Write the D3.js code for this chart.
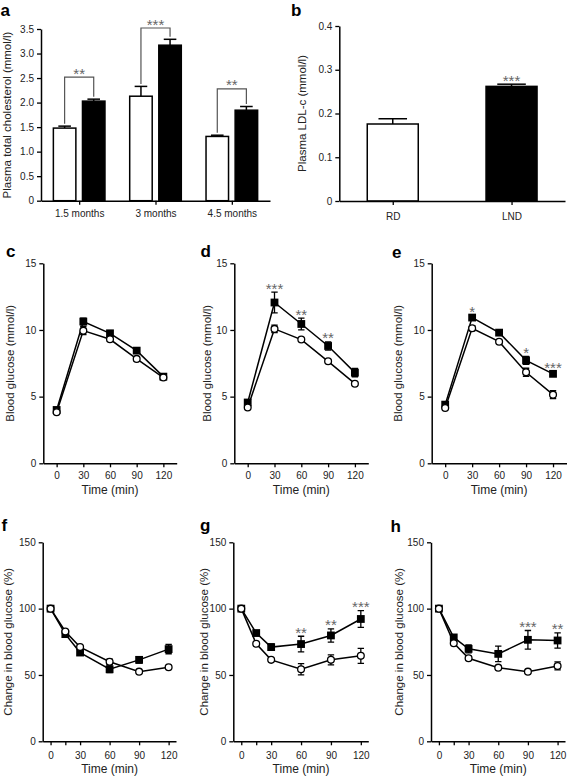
<!DOCTYPE html>
<html>
<head>
<meta charset="utf-8">
<script src="https://cdn.jsdelivr.net/npm/d3@7"></script>
<style>
  html, body { margin: 0; padding: 0; background: #fff; }
  svg { display: block; }
</style>
</head>
<body>
<svg id="chart" width="567" height="776"></svg>
<script>
// ---------------- DATA ----------------
// Panel a: plasma total cholesterol (mmol/l)
const months = ["1.5 months", "3 months", "4.5 months"];
const cholRD = [1.48, 2.13, 1.31];
const cholRDErr = [0.04, 0.20, 0.025];
const cholLND = [2.03, 3.17, 1.845];
const cholLNDErr = [0.04, 0.12, 0.075];
const cholStars = ["**", "***", "**"];
const cholBracket = [2.52, 3.52, 2.28];
const cholTicks = [0, 0.5, 1.0, 1.5, 2.0, 2.5, 3.0, 3.5];

// Panel b: plasma LDL-c (mmol/l)
const ldlGroups = ["RD", "LND"];
const ldlValues = [0.176, 0.262];
const ldlErr = [0.012, 0.005];
const ldlStars = ["", "***"];
const ldlTicks = [0, 0.1, 0.2, 0.3, 0.4];

// Panels c-e: blood glucose (mmol/l), OGTT
const ogttTime = [0, 30, 60, 90, 120];
const glucoseTicks = [0, 5, 10, 15];
const cRD = [3.83, 9.95, 9.3, 7.83, 6.43];
const cRDErr = [0.1, 0.3, 0.15, 0.15, 0.15];
const cLND = [4.0, 10.63, 9.75, 8.45, 6.5];
const cLNDErr = [0.1, 0.25, 0.2, 0.2, 0.15];
const cStars = [];

const dRD = [4.19, 10.08, 9.28, 7.65, 5.97];
const dRDErr = [0.1, 0.28, 0.1, 0.1, 0.1];
const dLND = [4.56, 12.06, 10.45, 8.8, 6.8];
const dLNDErr = [0.15, 0.78, 0.44, 0.31, 0.31];
const dStars = [{ t: 30, s: "***" }, { t: 60, s: "**" }, { t: 90, s: "**" }];

const eRD = [4.15, 10.13, 9.12, 6.83, 5.15];
const eRDErr = [0.1, 0.2, 0.1, 0.3, 0.3];
const eLND = [4.4, 10.93, 9.8, 7.72, 6.71];
const eLNDErr = [0.1, 0.15, 0.15, 0.3, 0.15];
const eStars = [{ t: 30, s: "*" }, { t: 90, s: "*" }, { t: 120, s: "***" }];

// Panels f-h: change in blood glucose (%), ITT
const ittTime = [0, 15, 30, 60, 90, 120];
const changeTicks = [0, 50, 100, 150];
const fRD = [100, 82.8, 71, 60, 52.5, 55.8];
const fRDErr = [0, 1, 1, 2, 1, 1];
const fLND = [100, 80.8, 66.9, 54.3, 61.4, 69.5];
const fLNDErr = [0, 1.5, 2, 2.5, 2.5, 3.5];
const fStars = [];

const gRD = [100, 73.5, 61.4, 54.3, 61.4, 64.4];
const gRDErr = [0, 1, 1, 4.2, 3.8, 5.7];
const gLND = [100, 81.6, 71, 73.3, 79.8, 92.2];
const gLNDErr = [0, 1.5, 2.5, 5.9, 5, 6.3];
const gStars = [{ t: 60, s: "**" }, { t: 90, s: "**" }, { t: 120, s: "***" }];

const hRD = [100, 74, 62.6, 55.5, 52.5, 56.8];
const hRDErr = [0, 1, 1.5, 1, 1, 3];
const hLND = [100, 78.3, 69.7, 65.9, 76.5, 76];
const hLNDErr = [0, 2, 3, 5.9, 7, 5.7];
const hStars = [{ t: 90, s: "***" }, { t: 120, s: "**" }];

// ---------------- DRAWING ----------------
const FONT = '"Liberation Sans", Arial, Helvetica, sans-serif';
const svg = d3.select("#chart").style("font-family", FONT);
const TICK_FS = 10, TITLE_FS = 11.5, XTITLE_FS = 12, STAR_FS = 15, LETTER_FS = 17;
const STAR_COLOR = "#666";

function styleAxis(g) {
  g.select(".domain").attr("stroke", "#000").attr("stroke-width", 1.5);
  g.selectAll(".tick line").attr("stroke", "#000").attr("stroke-width", 1.3);
  g.selectAll(".tick text").attr("fill", "#222").style("font-size", TICK_FS + "px").style("font-family", FONT);
}

function letter(txt, x, y) {
  svg.append("text").attr("x", x).attr("y", y).text(txt)
    .style("font-size", LETTER_FS + "px").style("font-weight", "bold").attr("fill", "#000");
}

function yTitle(txt, x, yc) {
  svg.append("text").attr("transform", `translate(${x},${yc}) rotate(-90)`)
    .attr("text-anchor", "middle").attr("dominant-baseline", "central")
    .style("font-size", TITLE_FS + "px").attr("fill", "#222").text(txt);
}

function star(txt, x, yTop) {
  // yTop: pixel position of the visual centre of the asterisks
  svg.append("text").attr("x", x).attr("y", yTop + 0.57 * STAR_FS)
    .attr("text-anchor", "middle").style("font-size", STAR_FS + "px")
    .attr("fill", STAR_COLOR).text(txt);
}

const fmt1 = d => d === 0 ? "0" : d3.format(".1f")(d);

// ---- Panel a ----
(function () {
  const x = d3.scalePoint(months, [41, 270]).padding(0.5);
  const y = d3.scaleLinear([0, 3.5], [200.7, 29]);
  const bw = 22.5, gap = 3.3;
  const g = svg.append("g");
  const groups = months.map((m, i) => ({ m, i }));
  const series = [
    { vals: cholRD, err: cholRDErr, fill: "#fff", off: -gap - bw },
    { vals: cholLND, err: cholLNDErr, fill: "#000", off: gap }
  ];
  series.forEach(s => {
    // error bars (upward only)
    groups.forEach(({ m, i }) => {
      const cx = x(m) + s.off + bw / 2;
      g.append("line").attr("x1", cx).attr("x2", cx)
        .attr("y1", y(s.vals[i])).attr("y2", y(s.vals[i] + s.err[i]))
        .attr("stroke", "#000").attr("stroke-width", 1.5);
      g.append("line").attr("x1", cx - bw * 0.28).attr("x2", cx + bw * 0.28)
        .attr("y1", y(s.vals[i] + s.err[i])).attr("y2", y(s.vals[i] + s.err[i]))
        .attr("stroke", "#000").attr("stroke-width", 1.5);
    });
    g.selectAll(null).data(groups).join("rect")
      .attr("x", d => x(d.m) + s.off)
      .attr("y", d => y(s.vals[d.i]))
      .attr("width", bw)
      .attr("height", d => y(0) - y(s.vals[d.i]))
      .attr("fill", s.fill).attr("stroke", "#000").attr("stroke-width", 1.5);
  });
  // brackets
  groups.forEach(({ m, i }) => {
    const xl = x(m) - gap - bw / 2, xr = x(m) + gap + bw / 2;
    const yb = y(cholBracket[i]);
    const yl = y(cholRD[i] + cholRDErr[i]) - 2.5, yr = y(cholLND[i] + cholLNDErr[i]) - 2.5;
    g.append("path").attr("d", `M${xl},${yl}V${yb}H${xr}V${yr}`)
      .attr("fill", "none").attr("stroke", "#555").attr("stroke-width", 1.2);
    star(cholStars[i], (xl + xr) / 2, yb - 7);
  });
  const ax = g.append("g").attr("transform", `translate(0,${y(0)})`)
    .call(d3.axisBottom(x).tickSize(4).tickPadding(5).tickSizeOuter(0));
  styleAxis(ax);
  const ay = g.append("g").attr("transform", `translate(41,0)`)
    .call(d3.axisLeft(y).tickValues(cholTicks).tickFormat(fmt1).tickSize(4).tickPadding(3).tickSizeOuter(0));
  styleAxis(ay);
  yTitle("Plasma total cholesterol (mmol/l)", 7, 115);
  letter("a", 0.5, 16);
})();

// ---- Panel b ----
(function () {
  const x = d3.scalePoint(ldlGroups, [339.3, 565]).padding(0.45);
  const y = d3.scaleLinear([0, 0.4], [201, 26]);
  const bw = 51;
  const g = svg.append("g");
  const fills = ["#fff", "#000"];
  ldlGroups.forEach((k, i) => {
    const cx = x(k);
    g.append("line").attr("x1", cx).attr("x2", cx)
      .attr("y1", y(ldlValues[i])).attr("y2", y(ldlValues[i] + ldlErr[i]))
      .attr("stroke", "#000").attr("stroke-width", 1.5);
    g.append("line").attr("x1", cx - bw * 0.28).attr("x2", cx + bw * 0.28)
      .attr("y1", y(ldlValues[i] + ldlErr[i])).attr("y2", y(ldlValues[i] + ldlErr[i]))
      .attr("stroke", "#000").attr("stroke-width", 1.5);
  });
  g.selectAll(null).data(ldlGroups).join("rect")
    .attr("x", d => x(d) - bw / 2)
    .attr("y", (d, i) => y(ldlValues[i]))
    .attr("width", bw)
    .attr("height", (d, i) => y(0) - y(ldlValues[i]))
    .attr("fill", (d, i) => fills[i]).attr("stroke", "#000").attr("stroke-width", 1.5);
  ldlGroups.forEach((k, i) => {
    if (ldlStars[i]) star(ldlStars[i], x(k), y(ldlValues[i] + ldlErr[i]) - 7);
  });
  const ax = g.append("g").attr("transform", `translate(0,${y(0)})`)
    .call(d3.axisBottom(x).tickSize(4).tickPadding(8).tickSizeOuter(0));
  styleAxis(ax);
  const ay = g.append("g").attr("transform", `translate(339.3,0)`)
    .call(d3.axisLeft(y).tickValues(ldlTicks).tickFormat(fmt1).tickSize(4).tickPadding(3).tickSizeOuter(0));
  styleAxis(ay);
  yTitle("Plasma LDL-c (mmol/l)", 302, 113.5);
  letter("b", 291, 16);
})();

// ---- Line panels ----
function linePanel(p) {
  const g = svg.append("g");
  const x = d3.scaleLinear(p.xDomain, [p.x0, p.x1]);
  const y = d3.scaleLinear([0, p.yMax], [p.yBot, p.yTop]);

  const ax = g.append("g").attr("transform", `translate(0,${p.yBot})`)
    .call(d3.axisBottom(x).tickValues(p.xTicks)
      .tickFormat(d => p.xLabels.includes(d) ? String(d) : "")
      .tickSize(4).tickPadding(p.xPad).tickSizeOuter(0));
  styleAxis(ax);
  const ay = g.append("g").attr("transform", `translate(${p.x0},0)`)
    .call(d3.axisLeft(y).tickValues(p.yTicks).tickSize(4).tickPadding(3).tickSizeOuter(0));
  styleAxis(ay);

  const series = [
    { vals: p.lnd, err: p.lndErr, kind: "square" },
    { vals: p.rd, err: p.rdErr, kind: "circle" }
  ];
  const line = d3.line().x(d => x(d.t)).y(d => y(d.v));
  series.forEach(s => {
    const pts = p.time.map((t, i) => ({ t, v: s.vals[i], e: s.err[i] }));
    g.append("path").datum(pts).attr("d", line)
      .attr("fill", "none").attr("stroke", "#000").attr("stroke-width", 1.5);
    pts.filter(d => d.e > 0).forEach(d => {
      const cx = x(d.t), y1 = y(d.v - d.e), y2 = y(d.v + d.e);
      g.append("path").attr("d", `M${cx},${y1}V${y2}M${cx - 3.2},${y1}H${cx + 3.2}M${cx - 3.2},${y2}H${cx + 3.2}`)
        .attr("fill", "none").attr("stroke", "#000").attr("stroke-width", 1.3);
    });
    if (s.kind === "square") {
      g.selectAll(null).data(pts).join("rect")
        .attr("x", d => x(d.t) - 3.9).attr("y", d => y(d.v) - 3.9)
        .attr("width", 7.8).attr("height", 7.8).attr("fill", "#000");
    } else {
      g.selectAll(null).data(pts).join("circle")
        .attr("cx", d => x(d.t)).attr("cy", d => y(d.v)).attr("r", 3.4)
        .attr("fill", "#fff").attr("stroke", "#000").attr("stroke-width", 1.3);
    }
  });
  p.stars.forEach(st => {
    const i = p.time.indexOf(st.t);
    star(st.s, x(st.t), y(p.lnd[i] + p.lndErr[i]) - 7);
  });
  svg.append("text").attr("x", (x(0) + x(120)) / 2).attr("y", p.xTitleY)
    .attr("text-anchor", "middle").style("font-size", XTITLE_FS + "px").attr("fill", "#222")
    .text("Time (min)");
  yTitle(p.ylabel, p.ylabelX, (p.yTop + p.yBot) / 2);
  letter(p.letter, p.lx, p.ly);
}

const ogttBase = {
  xDomain: [-15, 135], yTop: 263.3, yBot: 463.3, yMax: 15, yTicks: glucoseTicks,
  xTicks: ogttTime, xLabels: ogttTime, time: ogttTime, xPad: 5, xTitleY: 493.5,
  ylabel: "Blood glucose (mmol/l)"
};
linePanel({ ...ogttBase, x0: 43.3, x1: 176.7, rd: cRD, rdErr: cRDErr, lnd: cLND, lndErr: cLNDErr,
  stars: cStars, ylabelX: 10, letter: "c", lx: 6, ly: 257 });
linePanel({ ...ogttBase, x0: 234.3, x1: 368.3, rd: dRD, rdErr: dRDErr, lnd: dLND, lndErr: dLNDErr,
  stars: dStars, ylabelX: 206.7, letter: "d", lx: 200.5, ly: 257 });
linePanel({ ...ogttBase, x0: 431.7, x1: 566.5, rd: eRD, rdErr: eRDErr, lnd: eLND, lndErr: eLNDErr,
  stars: eStars, ylabelX: 398.3, letter: "e", lx: 392, ly: 257.5 });

const ittBase = {
  xDomain: [-8, 127.5], yTop: 542.3, yBot: 741.3, yMax: 150, yTicks: changeTicks,
  xTicks: ittTime, xLabels: [0, 30, 60, 90, 120], time: ittTime, xPad: 7, xTitleY: 772.5,
  ylabel: "Change in blood glucose (%)"
};
linePanel({ ...ittBase, x0: 42.7, x1: 176, rd: fRD, rdErr: fRDErr, lnd: fLND, lndErr: fLNDErr,
  stars: fStars, ylabelX: 8.3, letter: "f", lx: 1.5, ly: 531 });
linePanel({ ...ittBase, x0: 233.3, x1: 368.3, rd: gRD, rdErr: gRDErr, lnd: gLND, lndErr: gLNDErr,
  stars: gStars, ylabelX: 203.7, letter: "g", lx: 200, ly: 531 });
linePanel({ ...ittBase, x0: 431, x1: 565, rd: hRD, rdErr: hRDErr, lnd: hLND, lndErr: hLNDErr,
  stars: hStars, ylabelX: 399.3, letter: "h", lx: 390.5, ly: 532 });
</script>
</body>
</html>
